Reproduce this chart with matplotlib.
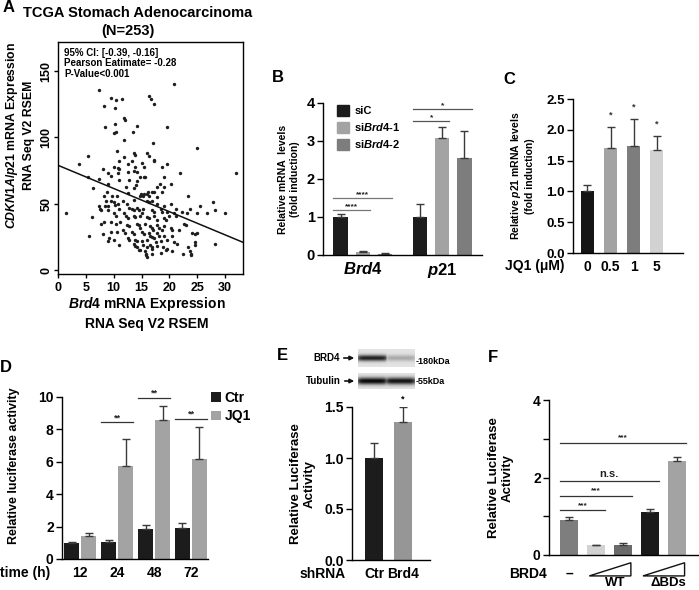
import numpy as np
import matplotlib
matplotlib.use('Agg')
import matplotlib.pyplot as plt
from matplotlib.patches import Patch, Polygon
import matplotlib.transforms as mtransforms

plt.rcParams['font.family'] = ['Liberation Sans', 'DejaVu Sans']
plt.rcParams['font.weight'] = 'bold'
plt.rcParams['axes.labelweight'] = 'bold'
plt.rcParams['mathtext.fontset'] = 'custom'
plt.rcParams['mathtext.it'] = 'Liberation Sans:italic:bold'
plt.rcParams['mathtext.rm'] = 'Liberation Sans:bold'
plt.rcParams['mathtext.bf'] = 'Liberation Sans:bold'
plt.rcParams['axes.linewidth'] = 1.0
plt.rcParams['xtick.major.width'] = 1.0
plt.rcParams['ytick.major.width'] = 1.0

# ---------------- data ----------------
# Panel A: TCGA scatter (Brd4 vs CDKN1A/p21 expression)
brd4_expr = [20.8, 7.4, 16.4, 16.7, 17.2, 9.5, 10.4, 11.4, 8.3, 10.3, 11.9, 12.1, 14.1, 8.5, 10.3, 10.0, 10.4, 19.5, 13.5, 11.9,
             17.1, 24.9, 5.3, 10.6, 13.6, 13.9, 16.0, 16.4, 17.2, 17.2, 11.9, 13.3, 10.9, 12.5, 3.7, 10.0, 10.8, 11.0, 15.1, 15.4,
             8.0, 13.8, 18.7, 19.6, 13.6, 14.2, 12.5, 21.9, 32.0, 9.5, 10.7, 5.3, 8.9, 14.8, 15.4, 15.7, 19.0, 7.4, 6.2, 10.9,
             12.7, 14.2, 18.3, 20.3, 12.2, 14.0, 8.9, 17.8, 16.9, 16.2, 19.0, 13.6, 8.8, 12.5, 14.9, 15.2, 15.5, 14.8, 16.0, 16.3,
             17.3, 18.7, 23.3, 17.8, 8.3, 10.5, 27.9, 25.5, 8.6, 9.7, 9.5, 10.1, 11.7, 13.6, 10.8, 15.9, 16.3, 16.9, 17.8, 19.0,
             20.2, 21.1, 23.7, 28.2, 22.2, 23.1, 24.9, 26.7, 29.9, 1.5, 7.4, 7.6, 7.7, 8.5, 8.9, 9.0, 10.3, 10.9, 12.3, 12.8,
             13.3, 13.6, 14.2, 14.5, 15.3, 16.9, 17.3, 18.4, 18.7, 19.6, 19.9, 20.8, 21.2, 6.1, 10.1, 10.4, 11.8, 12.2, 12.5, 13.6,
             13.9, 14.8, 15.1, 16.0, 16.4, 17.2, 17.7, 19.0, 19.3, 22.6, 23.0, 7.7, 8.3, 9.5, 10.4, 11.2, 12.3, 12.8, 14.2, 14.5,
             14.8, 15.7, 16.6, 16.9, 17.1, 17.8, 18.1, 18.7, 19.0, 20.2, 20.5, 21.7, 9.5, 10.6, 11.7, 12.0, 13.3, 13.6, 15.1, 15.4,
             16.3, 16.6, 16.9, 17.8, 18.1, 19.0, 20.5, 24.0, 24.6, 24.9, 5.6, 8.0, 9.2, 10.1, 12.5, 12.7, 13.9, 14.2, 15.1, 16.0,
             17.2, 17.5, 18.4, 19.6, 20.8, 8.9, 11.0, 13.6, 13.9, 14.2, 15.3, 16.6, 16.9, 17.8, 18.9, 19.6, 19.3, 21.4, 24.6, 24.6,
             28.2, 14.5, 14.8, 16.0, 16.9, 23.4, 15.7, 15.8, 15.8, 18.4, 20.5, 22.5, 23.7, 23.8, 23.8, 16.9, 16.0]
p21_expr = [140, 136, 131, 129, 125, 130, 128, 129, 124, 122, 115, 113, 109, 108, 110, 103, 104, 108, 104, 98,
            96, 92, 86, 90, 88, 87, 88, 86, 83, 82, 85, 82, 82, 80, 80, 78, 77, 76, 81, 78,
            76, 78, 78, 80, 75, 74, 74, 73, 73, 71, 73, 70, 73, 70, 70, 70, 70, 69, 62, 68,
            68, 67, 65, 65, 63, 64, 65, 63, 59, 59, 63, 62, 59, 58, 57, 56, 57, 56, 57, 56,
            59, 59, 56, 55, 56, 56, 51, 48, 52, 56, 52, 51, 52, 53, 50, 52, 51, 52, 50, 48,
            50, 46, 46, 45, 44, 43, 43, 43, 43, 43, 48, 46, 45, 48, 48, 45, 49, 46, 50, 47,
            46, 45, 47, 45, 46, 45, 44, 46, 44, 44, 41, 43, 41, 40, 43, 41, 43, 41, 39, 41,
            40, 41, 43, 40, 39, 41, 38, 39, 38, 35, 34, 35, 36, 36, 35, 36, 34, 33, 35, 34,
            32, 35, 33, 32, 30, 34, 32, 30, 33, 32, 30, 30, 29, 29, 30, 28, 29, 27, 29, 27,
            28, 26, 25, 28, 26, 26, 26, 28, 27, 28, 26, 27, 24, 23, 24, 23, 23, 22, 22, 23,
            24, 21, 22, 23, 21, 22, 19, 20, 18, 17, 19, 19, 17, 18, 17, 16, 15, 20, 21, 19,
            20, 15, 15, 17, 16, 17, 14, 12, 11, 13, 14, 12, 14, 12, 11, 12, 10]
reg_intercept = 79.0
reg_slope = -1.75
stats_text = ["95% CI: [-0.39, -0.16]", "Pearson Eatimate= -0.28", "P-Value<0.001"]

# Panel B
genes_B = ["Brd4", "p21"]
siC_B = [1.00, 1.00]
siC_B_err = [0.08, 0.33]
siBrd4_1_B = [0.07, 3.07]
siBrd4_1_B_err = [0.04, 0.30]
siBrd4_2_B = [0.03, 2.55]
siBrd4_2_B_err = [0.02, 0.72]
B_series = ["siC", "si$Brd4$-1", "si$Brd4$-2"]

# Panel C
jq1_doses = ["0", "0.5", "1", "5"]
p21_C = [1.00, 1.70, 1.73, 1.68]
p21_C_err = [0.10, 0.35, 0.45, 0.22]
C_stars = ["", "*", "*", "*"]

# Panel D
times_D = ["12", "24", "48", "72"]
ctr_D = [0.97, 1.05, 1.83, 1.90]
ctr_D_err = [0.10, 0.13, 0.28, 0.35]
jq1_D = [1.40, 5.75, 8.55, 6.20]
jq1_D_err = [0.22, 1.65, 0.90, 1.95]
D_sig = ["", "**", "**", "**"]
D_sig_y = [0, 8.45, 9.95, 8.65]

# Panel E
shrna_E = ["Ctr", "Brd4"]
luc_E = [1.00, 1.35]
luc_E_err = [0.15, 0.15]
blot_brd4 = [0.85, 0.25]
blot_tub = [0.95, 0.90]

# Panel F
luc_F = [0.90, 0.25, 0.25, 1.12, 2.42]
luc_F_err = [0.08, 0.02, 0.05, 0.08, 0.10]
F_sig = [(0, 1, 1.16, "***"), (0, 2, 1.53, "***"), (0, 3, 1.92, "n.s."), (0, 4, 2.90, "***")]

# ---------------- figure ----------------
W, H = 699, 590
fig = plt.figure(figsize=(W / 100, H / 100), dpi=100)


def add_ax(l, t, r, b):
    return fig.add_axes([l / W, 1 - b / H, (r - l) / W, (b - t) / H])


def ftext(x, y, s, **kw):
    fig.text(x / W, 1 - y / H, s, **kw)


def style_bar_axes(ax):
    ax.spines['top'].set_visible(False)
    ax.spines['right'].set_visible(False)
    ax.tick_params(axis='x', length=0)
    ax.tick_params(axis='y', length=4, direction='out')


def sig_line(ax, x0, x1, y, label, color='#444444', fs=6.5, dy=0.0):
    ax.plot([x0, x1], [y, y], color=color, lw=0.9, clip_on=False)
    ax.text((x0 + x1) / 2, y + dy, label, ha='center', va='bottom', fontsize=fs, color='#222222', clip_on=False)


# ---- A ----
axA = add_ax(58, 42, 243, 274)
axA.scatter(brd4_expr, p21_expr, s=6, c='#1e1e1e', linewidths=0)
xs = np.array([0, 33.2])
axA.plot(xs, reg_intercept + reg_slope * xs, color='#111111', lw=1.1)
axA.set_xlim(0, 33.2)
axA.set_ylim(-3, 172)
axA.set_xticks([0, 5, 10, 15, 20, 25, 30])
axA.set_yticks([0, 50, 100, 150])
axA.tick_params(labelsize=9, length=3)
axA.tick_params(axis='y', pad=1)
axA.tick_params(axis='x', pad=3)
plt.setp(axA.get_yticklabels(), rotation=90, va='center')
axA.text(0.035, 0.975, "\n".join(stats_text), transform=axA.transAxes, fontsize=7, va='top', ha='left', linespacing=1.05)
ftext(138, 13, "TCGA Stomach Adenocarcinoma", ha='center', va='center', fontsize=10.5)
ftext(128, 31, "(N=253)", ha='center', va='center', fontsize=10.5)
ftext(19.5, 135, "$CDKN1A/p21$ mRNA Expression\nRNA Seq V2 RSEM", ha='center', va='center', rotation=90,
      fontsize=8.8, linespacing=1.35)
ftext(147, 313, "$Brd4$ mRNA Expression\nRNA Seq V2 RSEM", ha='center', va='center', fontsize=10, linespacing=1.35)
ftext(3, 8, "A", fontsize=12, ha='left', va='center')

# ---- B ----
axB = add_ax(323, 103, 482, 255)
style_bar_axes(axB)
grpB = np.array([0.0, 3.6])
wB = 0.65
colsB = ['#1c1c1c', '#a3a3a3', '#7d7d7d']
valsB = [siC_B, siBrd4_1_B, siBrd4_2_B]
errsB = [siC_B_err, siBrd4_1_B_err, siBrd4_2_B_err]
for i in range(3):
    xpos = grpB + i
    axB.bar(xpos, valsB[i], width=wB, color=colsB[i], label=B_series[i])
    axB.errorbar(xpos, valsB[i], yerr=[np.zeros(2), errsB[i]], fmt='none', ecolor='#3a3a3a', elinewidth=1.0, capsize=3, capthick=1.0)
axB.set_xlim(-0.8, 6.4)
axB.set_ylim(0, 4)
axB.set_yticks([0, 1, 2, 3, 4])
axB.tick_params(axis='y', labelsize=10.5, pad=2)
axB.set_xticks(grpB + 1)
axB.set_xticklabels(["$" + g + "$" for g in genes_B], fontsize=12)
axB.tick_params(axis='x', pad=4)
axB.set_ylabel("Relative mRNA  levels\n(fold induction)", fontsize=7.5, va='center', linespacing=1.2)
axB.yaxis.set_label_coords((289 - 323) / 159, 0.5)
h = wB / 2
sig_line(axB, grpB[0] - h, grpB[0] + 1 + h, 1.18, "****", color='#777777', fs=6)
sig_line(axB, grpB[0] - h, grpB[0] + 2 + h, 1.50, "****", color='#777777', fs=6)
sig_line(axB, grpB[1] - h, grpB[1] + 1 + h, 3.53, "*", color='#555555', fs=6)
sig_line(axB, grpB[1] - h, grpB[1] + 2 + h, 3.84, "*", color='#555555', fs=6)
axB.legend(handles=[Patch(color=c) for c in colsB], labels=B_series, loc='upper left',
           bbox_to_anchor=(0.085, 0.985), frameon=False, fontsize=8, handlelength=1.1, handleheight=1.1,
           handletextpad=0.5, labelspacing=0.45, borderaxespad=0, borderpad=0)
ftext(278, 78, "B", fontsize=12, ha='center', va='center')

# ---- C ----
axC = add_ax(573, 99, 683, 253)
style_bar_axes(axC)
xC = np.arange(len(jq1_doses))
colsC = ['#151515', '#a3a3a3', '#7d7d7d', '#d2d2d2']
axC.bar(xC, p21_C, width=0.6, color=colsC)
axC.errorbar(xC, p21_C, yerr=[np.zeros(4), p21_C_err], fmt='none', ecolor='#3a3a3a', elinewidth=1.0, capsize=3, capthick=1.0)
for xi, v, e, s in zip(xC, p21_C, p21_C_err, C_stars):
    if s:
        axC.text(xi, v + e + 0.12, s, ha='center', va='bottom', fontsize=6.5, color='#333333')
axC.set_xlim(-0.63, 4.15)
axC.set_ylim(0, 2.5)
axC.set_yticks([0, 0.5, 1.0, 1.5, 2.0, 2.5])
axC.set_yticklabels(["0.0", "0.5", "1.0", "1.5", "2.0", "2.5"])
axC.tick_params(axis='y', labelsize=9.5, pad=2)
axC.set_xticks(xC)
axC.set_xticklabels(jq1_doses, fontsize=10)
axC.tick_params(axis='x', pad=5)
axC.set_ylabel("Relative $p21$ mRNA levels\n(fold induction)", fontsize=7.5, va='center', linespacing=1.2)
axC.yaxis.set_label_coords((522 - 573) / 110, 0.5)
ftext(505, 266, "JQ1 (μM)", fontsize=10, ha='left', va='center')
ftext(509, 79, "C", fontsize=12, ha='center', va='center')

# ---- D ----
axD = add_ax(62, 397, 208, 559)
style_bar_axes(axD)
xD = np.arange(len(times_D))
wD = 0.41
axD.bar(xD - 0.23, ctr_D, width=wD, color='#1c1c1c', label='Ctr')
axD.bar(xD + 0.23, jq1_D, width=wD, color='#a3a3a3', label='JQ1')
axD.errorbar(xD - 0.23, ctr_D, yerr=[np.zeros(4), ctr_D_err], fmt='none', ecolor='#3a3a3a', elinewidth=1.0, capsize=3, capthick=1.0)
axD.errorbar(xD + 0.23, jq1_D, yerr=[np.zeros(4), jq1_D_err], fmt='none', ecolor='#3a3a3a', elinewidth=1.0, capsize=3, capthick=1.0)
for xi, s, y in zip(xD, D_sig, D_sig_y):
    if s:
        sig_line(axD, xi - 0.23 - wD / 2, xi + 0.23 + wD / 2, y, s, color='#333333', fs=6.5)
axD.set_xlim(-0.49, 3.46)
axD.set_ylim(0, 10)
axD.set_yticks([0, 2, 4, 6, 8, 10])
axD.tick_params(axis='y', labelsize=10, pad=2)
axD.set_xticks(xD)
axD.set_xticklabels(times_D, fontsize=10)
axD.tick_params(axis='x', pad=5)
axD.set_ylabel("Relative luciferase activity", fontsize=9, va='center')
axD.yaxis.set_label_coords((14 - 62) / 146, (559 - 466) / 162)
axD.legend(loc='upper left', bbox_to_anchor=(1.02, 1.04), frameon=False, fontsize=10, handlelength=0.7,
           handleheight=0.7, handletextpad=0.3, labelspacing=0.35, borderaxespad=0, borderpad=0)
ftext(25, 573, "time (h)", fontsize=10, ha='center', va='center')
ftext(6, 367, "D", fontsize=12, ha='center', va='center')

# ---- E ----
axE = add_ax(352, 407, 430, 560)
style_bar_axes(axE)
xE = np.arange(len(shrna_E))
axE.bar(xE, luc_E, width=0.62, color=['#1c1c1c', '#969696'])
axE.errorbar(xE, luc_E, yerr=[np.zeros(2), luc_E_err], fmt='none', ecolor='#3a3a3a', elinewidth=1.0, capsize=3, capthick=1.0)
axE.text(xE[1], luc_E[1] + luc_E_err[1] + 0.03, "*", ha='center', va='bottom', fontsize=6.5, clip_on=False)
axE.set_xlim(-0.76, 1.93)
axE.set_ylim(0, 1.5)
axE.set_yticks([0, 0.5, 1.0, 1.5])
axE.set_yticklabels(["0.0", "0.5", "1.0", "1.5"])
axE.tick_params(axis='y', labelsize=10, pad=2)
axE.set_xticks(xE)
axE.set_xticklabels(shrna_E, fontsize=10)
axE.tick_params(axis='x', pad=5)
axE.set_ylabel("Relative Luciferase\nActivity", fontsize=9.5, va='center', linespacing=1.15)
axE.yaxis.set_label_coords((303 - 352) / 78, 0.5)
ftext(323, 574, "shRNA", fontsize=10, ha='center', va='center')
ftext(282, 355, "E", fontsize=12, ha='center', va='center')


# western blot strips
def blot(ax, lanes, width_sigma):
    yy = np.linspace(-1, 1, 40)[:, None]
    xx = np.linspace(0, 2, 120)[None, :]
    lane_idx = np.clip((xx // 1).astype(int), 0, 1)
    inten = np.array(lanes)[lane_idx]
    edge = np.exp(-((xx % 1 - 0.5) / 0.55) ** 8)
    img = 0.12 + inten * np.exp(-(yy / width_sigma) ** 2) * edge
    ax.imshow(img, cmap='gray_r', vmin=0, vmax=1.1, aspect='auto', interpolation='bilinear')
    ax.set_xticks([])
    ax.set_yticks([])
    for s in ax.spines.values():
        s.set_visible(False)


axW1 = add_ax(358, 349, 415, 367)
blot(axW1, blot_brd4, 0.35)
axW2 = add_ax(358, 373, 415, 389)
blot(axW2, blot_tub, 0.45)
ftext(340, 358, "BRD4", fontsize=7, ha='right', va='center')
ftext(341, 381, "Tubulin", fontsize=7, ha='right', va='center')
fig.add_artist(matplotlib.patches.FancyArrowPatch((341 / W, 1 - 358 / H), (357 / W, 1 - 358 / H),
               transform=fig.transFigure, arrowstyle='-|>', mutation_scale=6, lw=1.2, color='#111111'))
fig.add_artist(matplotlib.patches.FancyArrowPatch((342 / W, 1 - 381 / H), (357 / W, 1 - 381 / H),
               transform=fig.transFigure, arrowstyle='-|>', mutation_scale=6, lw=1.2, color='#111111'))
ftext(416, 362, "-180kDa", fontsize=6.5, ha='left', va='center')
ftext(416, 381, "-55kDa", fontsize=6.5, ha='left', va='center')

# ---- F ----
axF = add_ax(549, 400, 698, 555)
style_bar_axes(axF)
xF = np.arange(len(luc_F))
wF = 0.67
colsF = ['#7e7e7e', '#d2d2d2', '#6a6a6a', '#1a1a1a', '#a3a3a3']
axF.bar(xF, luc_F, width=wF, color=colsF)
axF.errorbar(xF, luc_F, yerr=[np.zeros(5), luc_F_err], fmt='none', ecolor='#3a3a3a', elinewidth=1.0, capsize=3, capthick=1.0)
for a, b, y, s in F_sig:
    fs = 8 if s == "n.s." else 6
    sig_line(axF, xF[a] - wF / 2, xF[b] + wF / 2, y, s, color='#333333', fs=fs, dy=0.03)
axF.set_xlim(-0.75, 4.8)
axF.set_ylim(0, 4)
axF.set_yticks([0, 1, 2, 3, 4])
axF.set_yticklabels(["0", "", "2", "", "4"])
axF.tick_params(axis='y', labelsize=10, pad=2)
axF.set_xticks([])
axF.set_ylabel("Relative Luciferase\nActivity", fontsize=9.5, va='center', linespacing=1.15)
axF.yaxis.set_label_coords((501 - 549) / 149, 0.5)
tr = mtransforms.blended_transform_factory(axF.transData, axF.transAxes)
axF.text(xF[0], -0.12, "–", transform=tr, ha='center', va='center', fontsize=10, clip_on=False)
for a, b in [(1, 2), (3, 4)]:
    x0 = xF[a] - 0.25
    x1 = xF[b] + 0.3
    tri = Polygon([[x0, -0.135], [x1, -0.05], [x1, -0.135]], closed=True, fill=False, lw=1.0,
                  edgecolor='#111111', transform=tr, clip_on=False)
    axF.add_patch(tri)
yl = -(583.5 - 555) / 155
axF.text((xF[1] + xF[2]) / 2 + 0.2, yl, "WT", transform=tr, ha='center', va='center', fontsize=9.5, clip_on=False)
axF.text((xF[3] + xF[4]) / 2 + 0.2, yl, "ΔBDs", transform=tr, ha='center', va='center', fontsize=9.5, clip_on=False)
ftext(528, 574, "BRD4", fontsize=10, ha='center', va='center')
ftext(493, 357, "F", fontsize=12, ha='center', va='center')

fig.savefig("out.png", dpi=100)
